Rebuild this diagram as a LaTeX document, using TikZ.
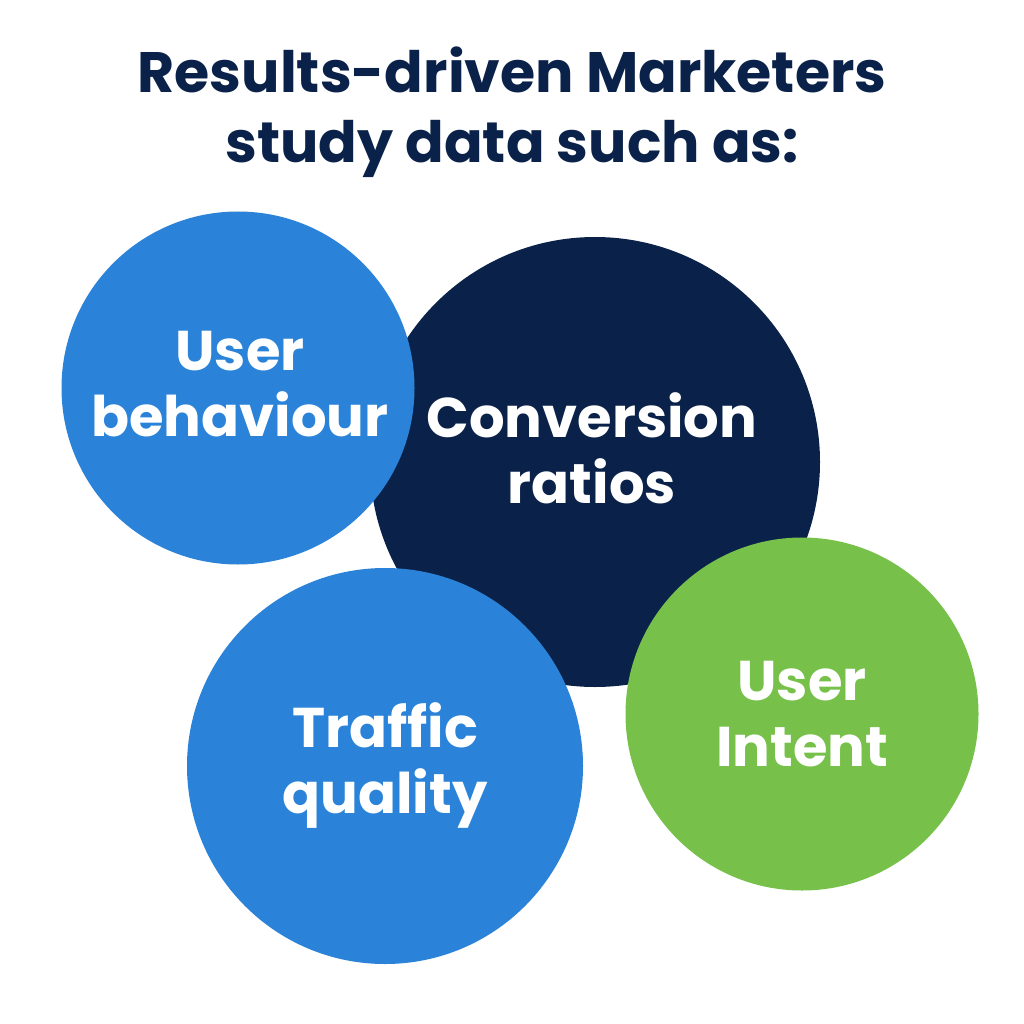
\documentclass[tikz,border=0pt]{standalone}
\usepackage{fontspec}
\setmainfont{Poppins}[UprightFont=* SemiBold, BoldFont=* Bold]
\definecolor{navy}{HTML}{0A2249}
\definecolor{blu}{HTML}{2A83D8}
\definecolor{grn}{HTML}{77C14A}
\begin{document}
\begin{tikzpicture}[x=1pt,y=-1pt,
  circ/.style={circle,minimum size=#1,inner sep=0pt},
  lab/.style={text=white,font=\fontsize{56}{66}\selectfont\bfseries,align=center}]
\useasboundingbox (0,0) rectangle (1024,1024);
\fill[white] (0,0) rectangle (1024,1024);
\node[text=navy,font=\fontsize{57}{70}\selectfont\bfseries,align=center] (title) at (512,112) {Results-driven Marketers\\study data such as:};
\node[circ=450pt,fill=navy] (conv) at (595,462) {};
\node[circ=353pt,fill=blu] (ub) at (238,388) {};
\node[circ=396pt,fill=blu] (tq) at (385,766) {};
\node[circ=353pt,fill=grn] (ui) at (802,714) {};
\node[lab] (tconv) at (592,448) {Conversion\\ratios};
\node[lab] (tub) at (240,384) {User\\behaviour};
\node[lab] (ttq) at (385,766) {Traffic\\quality};
\node[lab] (tui) at (802,714) {User\\Intent};
\end{tikzpicture}
\end{document}
